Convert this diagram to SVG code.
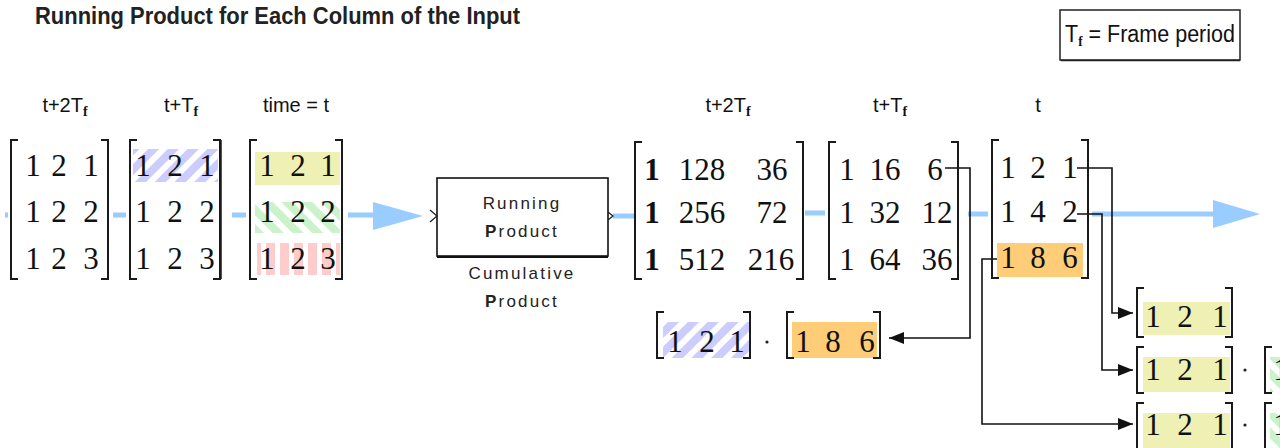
<svg xmlns="http://www.w3.org/2000/svg" width="1280" height="448" viewBox="0 0 1280 448">
<style>
.br{fill:none;stroke:#1a1a1a;stroke-width:2}
.num{font-family:"Liberation Serif","DejaVu Serif",serif;font-size:31px;fill:#111;text-anchor:middle}
.lbl{font-family:"Liberation Sans","DejaVu Sans",sans-serif;font-size:20px;fill:#111;text-anchor:middle}
.sub{font-family:"Liberation Serif",serif;font-weight:bold;font-size:14px}
.blk{font-family:"Liberation Sans","DejaVu Sans",sans-serif;font-size:17px;fill:#222;text-anchor:middle;letter-spacing:2.2px}
.cn{fill:none;stroke:#111;stroke-width:1.6}
.blue{fill:none;stroke:#99ccff;stroke-width:5}
.dot{fill:#222}
</style>
<defs>
<pattern id="hb" width="14" height="14" patternUnits="userSpaceOnUse" patternTransform="rotate(45)"><rect width="8" height="14" fill="#ccccff"/></pattern>
<pattern id="hg" width="14" height="14" patternUnits="userSpaceOnUse" patternTransform="rotate(-45)"><rect width="8" height="14" fill="#ccf2cc"/></pattern>
<pattern id="hr" width="14" height="14" patternUnits="userSpaceOnUse"><rect width="9" height="14" fill="#ffcccc"/></pattern>
<marker id="ah" markerUnits="userSpaceOnUse" markerWidth="15" markerHeight="12" refX="15" refY="6" orient="auto"><path d="M0,0 L15,6 L0,12 z" fill="#111"/></marker>
</defs>
<rect width="1280" height="448" fill="#fff"/>

<g id="title">
<text x="35" y="24" textLength="485" lengthAdjust="spacingAndGlyphs" font-family="Liberation Sans, sans-serif" font-size="23" font-weight="bold" fill="#222">Running Product for Each Column of the Input</text>
</g>
<g id="legend">
<rect x="1060" y="10" width="180" height="50" fill="#fff" stroke="#222" stroke-width="1.5"/>
<line x1="1061" y1="60.5" x2="1240" y2="60.5" stroke="#222" stroke-width="1.5"/>
<text x="1065" y="42" textLength="170" lengthAdjust="spacingAndGlyphs" font-family="Liberation Sans, sans-serif" font-size="23" fill="#111">T<tspan class="sub" dy="4">f</tspan><tspan dy="-4"> = Frame period</tspan></text>
</g>

<g id="connectors">
<path class="blue" d="M5 215 H8 M113 215 H126 M232 215 H246 M348 215 H376"/>
<polygon points="373,202 423,216 373,230" fill="#99ccff"/>
<path class="blue" d="M613 216 H636 M805 213 H825 M968 214 H988 M1092 214 H1216"/>
<polygon points="1213,200 1260,214 1213,228" fill="#99ccff"/>
<path class="cn" d="M945 168 H970 V338 H889" marker-end="url(#ah)"/>
<path class="cn" d="M1077 168 H1112 V313 H1133" marker-end="url(#ah)"/>
<path class="cn" d="M1077 214 H1102 V370 H1133" marker-end="url(#ah)"/>
<path class="cn" d="M997 259 H982 V424 H1133" stroke-width="2.5" marker-end="url(#ah)"/>
</g>

<g id="labels">
<text class="lbl" x="65" y="112">t+2T<tspan class="sub" dy="4">f</tspan></text>
<text class="lbl" x="181" y="112">t+T<tspan class="sub" dy="4">f</tspan></text>
<text class="lbl" x="296" y="112">time = t</text>
<text class="lbl" x="728" y="112">t+2T<tspan class="sub" dy="4">f</tspan></text>
<text class="lbl" x="890" y="112">t+T<tspan class="sub" dy="4">f</tspan></text>
<text class="lbl" x="1038" y="112">t</text>
</g>

<g id="input-t2">
<path class="br" d="M18 140 H11 V279 H18 M101 140 H108 V279 H101"/>
<text class="num"><tspan x="33" y="176">1</tspan><tspan x="59" y="176">2</tspan><tspan x="91" y="176">1</tspan></text>
<text class="num"><tspan x="33" y="222">1</tspan><tspan x="59" y="222">2</tspan><tspan x="91" y="222">2</tspan></text>
<text class="num"><tspan x="33" y="269">1</tspan><tspan x="59" y="269">2</tspan><tspan x="91" y="269">3</tspan></text>
</g>

<g id="input-t1">
<rect x="133" y="149" width="85" height="33" fill="url(#hb)"/>
<path class="br" d="M137 140 H130 V279 H137 M213 140 H220 V279 H213"/>
<line x1="221" y1="140" x2="221" y2="279" stroke="#1a1a1a" stroke-width="1.5"/>
<text class="num"><tspan x="143" y="176">1</tspan><tspan x="175" y="176">2</tspan><tspan x="207" y="176">1</tspan></text>
<text class="num"><tspan x="143" y="222">1</tspan><tspan x="175" y="222">2</tspan><tspan x="207" y="222">2</tspan></text>
<text class="num"><tspan x="143" y="269">1</tspan><tspan x="175" y="269">2</tspan><tspan x="207" y="269">3</tspan></text>
</g>

<g id="input-t0">
<rect x="255" y="152" width="85" height="33" fill="#eef0b4"/>
<rect x="255" y="202" width="85" height="31" fill="url(#hg)"/>
<rect x="257" y="243" width="83" height="32" fill="url(#hr)"/>
<path class="br" d="M257 140 H250 V279 H257 M335 140 H342 V279 H335"/>
<text class="num"><tspan x="267" y="176">1</tspan><tspan x="298" y="176">2</tspan><tspan x="328" y="176">1</tspan></text>
<text class="num"><tspan x="267" y="222">1</tspan><tspan x="298" y="222">2</tspan><tspan x="328" y="222">2</tspan></text>
<text class="num"><tspan x="267" y="269">1</tspan><tspan x="298" y="269">2</tspan><tspan x="328" y="269">3</tspan></text>
</g>

<g id="block">
<rect x="437" y="178" width="171" height="78" fill="#fff" stroke="#111" stroke-width="1.6"/>
<line x1="437" y1="257" x2="608" y2="257" stroke="#111" stroke-width="2"/>
<polyline points="430,210 437,216 430,222" fill="none" stroke="#222" stroke-width="1.3"/>
<polyline points="608,212 613,216 608,220" fill="none" stroke="#222" stroke-width="1.3"/>
<text class="blk" x="522" y="209">Running</text>
<text class="blk" x="522" y="237"><tspan font-weight="bold">P</tspan>roduct</text>
<text class="blk" x="522" y="279">Cumulative</text>
<text class="blk" x="522" y="307"><tspan font-weight="bold">P</tspan>roduct</text>
</g>

<g id="output-t2">
<path class="br" d="M642 142 H635 V279 H642 M796 142 H803 V279 H796"/>
<text class="num"><tspan x="652" y="180" font-weight="bold">1</tspan><tspan x="702" y="180">128</tspan><tspan x="772" y="180">36</tspan></text>
<text class="num"><tspan x="652" y="223" font-weight="bold">1</tspan><tspan x="702" y="223">256</tspan><tspan x="772" y="223">72</tspan></text>
<text class="num"><tspan x="652" y="270" font-weight="bold">1</tspan><tspan x="702" y="270">512</tspan><tspan x="771" y="270">216</tspan></text>
</g>

<g id="output-t1">
<path class="br" d="M836 142 H829 V279 H836 M951 142 H958 V279 H951"/>
<text class="num"><tspan x="847" y="180">1</tspan><tspan x="885" y="180">16</tspan><tspan x="935" y="180">6</tspan></text>
<text class="num"><tspan x="847" y="223">1</tspan><tspan x="885" y="223">32</tspan><tspan x="937" y="223">12</tspan></text>
<text class="num"><tspan x="847" y="270">1</tspan><tspan x="885" y="270">64</tspan><tspan x="937" y="270">36</tspan></text>
</g>

<g id="output-t0">
<rect x="997" y="243" width="86" height="34" fill="#ffcc77"/>
<path class="br" d="M999 140 H992 V278 H999 M1081 140 H1088 V278 H1081"/>
<text class="num"><tspan x="1008" y="178">1</tspan><tspan x="1038" y="178">2</tspan><tspan x="1070" y="178">1</tspan></text>
<text class="num"><tspan x="1008" y="222">1</tspan><tspan x="1038" y="222">4</tspan><tspan x="1070" y="222">2</tspan></text>
<text class="num"><tspan x="1008" y="268">1</tspan><tspan x="1038" y="268">8</tspan><tspan x="1070" y="268">6</tspan></text>
</g>

<g id="product-t1">
<rect x="663" y="322" width="87" height="36" fill="url(#hb)"/>
<path class="br" d="M664 312 H657 V358 H664 M743 312 H750 V358 H743"/>
<text class="num"><tspan x="675" y="352">1</tspan><tspan x="707" y="352">2</tspan><tspan x="737" y="352">1</tspan></text>
<circle class="dot" cx="767" cy="342" r="1.6"/>
<rect x="792" y="322" width="85" height="36" fill="#ffcc77"/>
<path class="br" d="M794 312 H787 V358 H794 M873 312 H880 V358 H873"/>
<text class="num"><tspan x="803" y="352">1</tspan><tspan x="833" y="352">8</tspan><tspan x="867" y="352">6</tspan></text>
</g>

<g id="product-row1">
<rect x="1143" y="302" width="87" height="33" fill="#eef0b4"/>
<path class="br" d="M1144 288 H1137 V337 H1144 M1225 288 H1232 V337 H1225"/>
<text class="num"><tspan x="1153" y="327">1</tspan><tspan x="1185" y="327">2</tspan><tspan x="1220" y="327">1</tspan></text>
</g>

<g id="product-row2">
<rect x="1143" y="357" width="87" height="35" fill="#eef0b4"/>
<path class="br" d="M1144 347 H1137 V393 H1144 M1225 347 H1232 V393 H1225"/>
<text class="num"><tspan x="1153" y="380">1</tspan><tspan x="1185" y="380">2</tspan><tspan x="1220" y="380">1</tspan></text>
<circle class="dot" cx="1245" cy="370" r="1.6"/>
<rect x="1270" y="357" width="20" height="35" fill="url(#hg)"/>
<path class="br" d="M1272 347 H1265 V393 H1272"/>
<text class="num" x="1281" y="380">1</text>
</g>

<g id="product-row3">
<rect x="1143" y="413" width="87" height="35" fill="#eef0b4"/>
<path class="br" d="M1144 403 H1137 V460 H1144 M1225 403 H1232 V460 H1225"/>
<text class="num"><tspan x="1153" y="435">1</tspan><tspan x="1185" y="435">2</tspan><tspan x="1220" y="435">1</tspan></text>
<circle class="dot" cx="1245" cy="425" r="1.6"/>
<rect x="1270" y="413" width="20" height="35" fill="url(#hg)"/>
<path class="br" d="M1272 403 H1265 V460 H1272"/>
<text class="num" x="1281" y="435">1</text>
</g>
</svg>
